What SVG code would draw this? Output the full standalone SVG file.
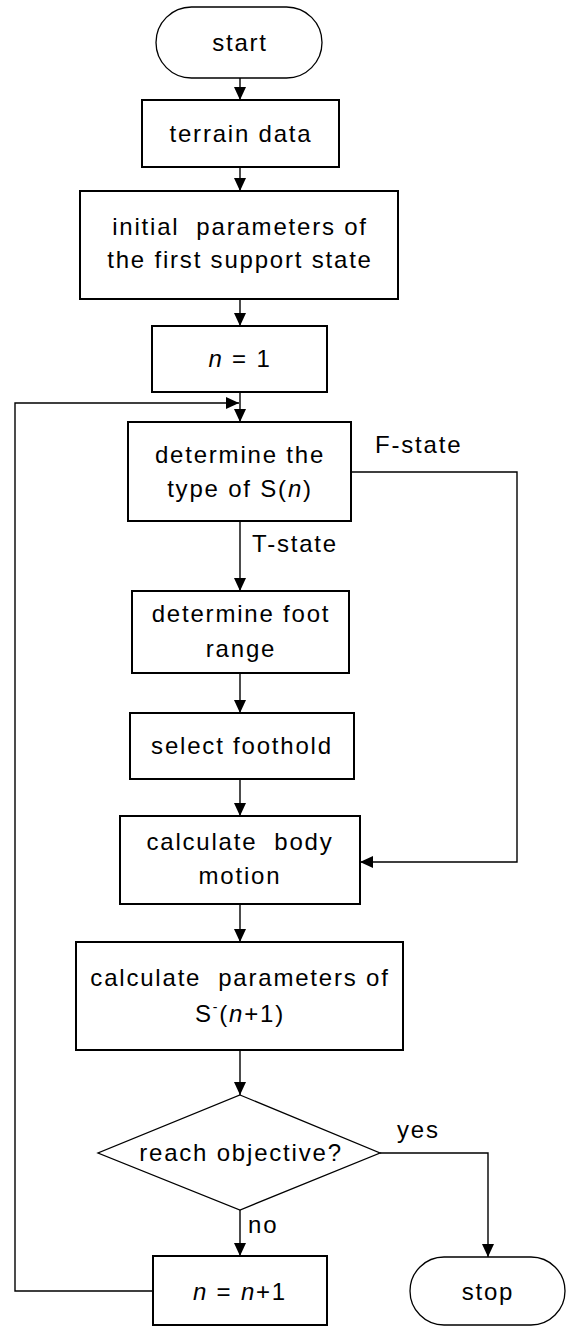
<svg xmlns="http://www.w3.org/2000/svg" width="566" height="1327" viewBox="0 0 566 1327">
<defs>
<style>
.box{fill:#fff;stroke:#000;stroke-width:2}
.thin{fill:#fff;stroke:#000;stroke-width:1.3}
.t{font-family:"Liberation Sans",Arial,sans-serif;font-size:24px;letter-spacing:1.8px;fill:#000;text-anchor:middle}
.l{font-family:"Liberation Sans",Arial,sans-serif;font-size:24px;letter-spacing:1.8px;fill:#000}
.c{fill:none;stroke:#000;stroke-width:1.4}
.i{font-style:italic}
</style>
<marker id="ah" markerWidth="13" markerHeight="12" refX="13" refY="6" orient="auto" markerUnits="userSpaceOnUse">
<path d="M0,0 L13,6 L0,12 z" fill="#000"/>
</marker>
</defs>
<g id="connectors">
<line class="c" x1="240" y1="78" x2="240" y2="100" marker-end="url(#ah)"/>
<line class="c" x1="240" y1="167" x2="240" y2="191" marker-end="url(#ah)"/>
<line class="c" x1="240" y1="299" x2="240" y2="326" marker-end="url(#ah)"/>
<line class="c" x1="240" y1="392" x2="240" y2="422" marker-end="url(#ah)"/>
<polyline class="c" points="153,1291 15,1291 15,403 239,403" marker-end="url(#ah)"/>
<polyline class="c" points="351,472 517,472 517,862 360,862" marker-end="url(#ah)"/>
<line class="c" x1="240" y1="521" x2="240" y2="591" marker-end="url(#ah)"/>
<line class="c" x1="240" y1="673" x2="240" y2="713" marker-end="url(#ah)"/>
<line class="c" x1="240" y1="779" x2="240" y2="816" marker-end="url(#ah)"/>
<line class="c" x1="240" y1="904" x2="240" y2="942" marker-end="url(#ah)"/>
<line class="c" x1="240" y1="1050" x2="240" y2="1095" marker-end="url(#ah)"/>
<polyline class="c" points="380,1153 488,1153 488,1257" marker-end="url(#ah)"/>
<line class="c" x1="240" y1="1210" x2="240" y2="1256" marker-end="url(#ah)"/>
<text class="l" x="375" y="453">F-state</text>
<text class="l" x="252" y="552">T-state</text>
<text class="l" x="397" y="1138">yes</text>
<text class="l" x="248" y="1233">no</text>
</g>
<g id="start">
<rect class="thin" x="156" y="7" width="166" height="71" rx="35.5" ry="35.5"/>
<text class="t" x="240" y="51">start</text>
</g>
<g id="terrain">
<rect class="box" x="142" y="100" width="197" height="67"/>
<text class="t" x="241" y="142">terrain data</text>
</g>
<g id="initial">
<rect class="box" x="80" y="191" width="318" height="108"/>
<text class="t" x="240" y="235" xml:space="preserve">initial  parameters of</text>
<text class="t" x="240" y="268">the first support state</text>
</g>
<g id="n1">
<rect class="box" x="152" y="326" width="175" height="66"/>
<text class="t" x="240" y="367"><tspan class="i">n</tspan> = 1</text>
</g>
<g id="determine">
<rect class="box" x="128" y="422" width="223" height="99"/>
<text class="t" x="240" y="463">determine the</text>
<text class="t" x="240" y="497">type of S(<tspan class="i">n</tspan>)</text>
</g>
<g id="footrange">
<rect class="box" x="132" y="591" width="217" height="82"/>
<text class="t" x="241" y="622">determine foot</text>
<text class="t" x="241" y="657">range</text>
</g>
<g id="foothold">
<rect class="box" x="130" y="713" width="224" height="66"/>
<text class="t" x="242" y="754">select foothold</text>
</g>
<g id="body">
<rect class="box" x="120" y="816" width="240" height="88"/>
<text class="t" x="240" y="850" xml:space="preserve">calculate  body</text>
<text class="t" x="240" y="884">motion</text>
</g>
<g id="params">
<rect class="box" x="76" y="942" width="327" height="108"/>
<text class="t" x="240" y="986" xml:space="preserve">calculate  parameters of</text>
<text class="t" x="240" y="1022">S<tspan font-size="14" dy="-10">-</tspan><tspan dy="10">(</tspan><tspan class="i">n</tspan>+1)</text>
</g>
<g id="decision">
<polygon class="thin" points="240,1095 380,1153 240,1210 98,1153"/>
<text class="t" x="241" y="1161">reach objective?</text>
</g>
<g id="increment">
<rect class="box" x="153" y="1256" width="174" height="69"/>
<text class="t" x="240" y="1300"><tspan class="i">n</tspan> = <tspan class="i">n</tspan>+1</text>
</g>
<g id="stop">
<rect class="thin" x="410" y="1257" width="155" height="68" rx="34" ry="34"/>
<text class="t" x="488" y="1300">stop</text>
</g>
</svg>
